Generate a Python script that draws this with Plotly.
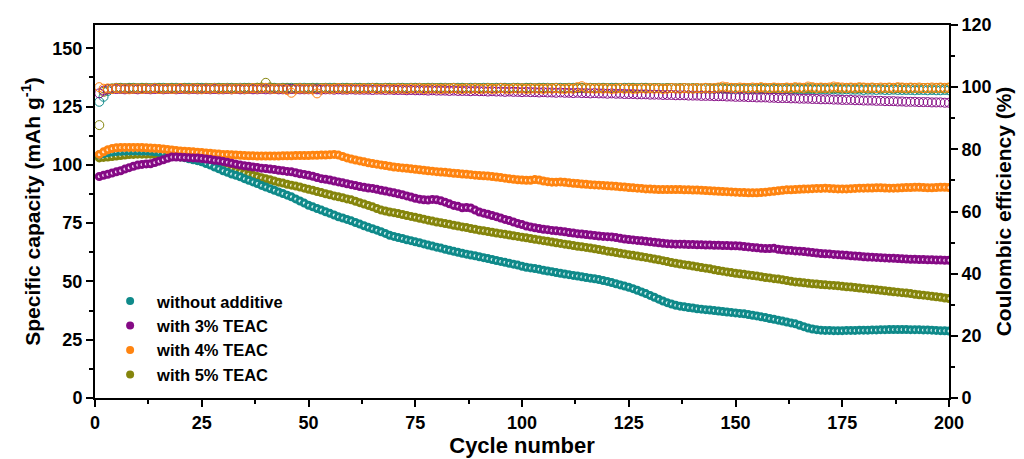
import plotly.graph_objects as go

cycles = list(range(1, 201))

# Specific capacity (mAh g-1)
cap_without = [
    104.3, 104.8, 105.2, 105.5, 105.7, 105.8, 105.9, 106.0, 106.0, 106.0,
    105.9, 105.9, 105.8, 105.6, 105.4, 105.1, 104.7, 104.2, 103.9, 103.5,
    103.1, 102.6, 102.2, 101.8, 101.3, 100.6, 99.9, 99.1, 98.3, 97.5,
    96.8, 96.1, 95.5, 94.9, 94.1, 93.4, 92.7, 92.0, 91.2, 90.5,
    89.8, 89.1, 88.4, 87.7, 87.0, 86.3, 85.4, 84.5, 83.6, 82.7,
    82.0, 81.3, 80.6, 79.9, 79.2, 78.5, 77.7, 77.2, 76.6, 76.0,
    75.3, 74.6, 73.9, 73.2, 72.6, 72.0, 71.3, 70.6, 69.8, 69.3,
    68.8, 68.4, 67.9, 67.5, 67.0, 66.6, 66.1, 65.6, 65.2, 64.7,
    64.3, 63.8, 63.4, 62.9, 62.5, 62.1, 61.7, 61.3, 61.0, 60.6,
    60.2, 59.8, 59.4, 59.0, 58.6, 58.2, 57.8, 57.4, 57.0, 56.5,
    56.1, 55.8, 55.5, 55.2, 54.8, 54.5, 54.2, 53.8, 53.5, 53.2,
    52.9, 52.6, 52.3, 52.0, 51.7, 51.4, 51.1, 50.8, 50.4, 50.0,
    49.5, 49.0, 48.5, 48.0, 47.5, 46.9, 46.2, 45.5, 44.8, 44.0,
    43.2, 42.4, 41.6, 40.9, 40.3, 39.8, 39.4, 39.1, 38.8, 38.6,
    38.3, 38.1, 37.9, 37.7, 37.5, 37.3, 37.1, 36.9, 36.7, 36.5,
    36.3, 36.1, 35.8, 35.5, 35.2, 34.8, 34.5, 34.1, 33.8, 33.4,
    33.0, 32.6, 32.2, 31.8, 31.2, 30.6, 30.0, 29.6, 29.3, 29.1,
    29.0, 29.0, 28.9, 28.9, 28.9, 29.0, 29.0, 29.0, 29.1, 29.1,
    29.1, 29.2, 29.2, 29.3, 29.3, 29.4, 29.4, 29.4, 29.4, 29.4,
    29.3, 29.3, 29.3, 29.2, 29.2, 29.1, 29.0, 28.9, 28.8, 28.7,
]
cap_3 = [
    95.0, 95.5, 96.0, 96.5, 97.0, 97.5, 98.2, 98.8, 99.4, 99.9,
    100.2, 100.4, 100.5, 101.0, 101.6, 102.2, 102.8, 103.4, 103.4, 103.3,
    103.2, 103.1, 103.0, 102.9, 102.7, 102.5, 102.3, 102.0, 101.8, 101.5,
    101.1, 100.7, 100.3, 99.9, 99.6, 99.4, 99.1, 98.9, 98.6, 98.4,
    98.2, 98.0, 97.7, 97.5, 97.2, 97.0, 96.6, 96.2, 95.9, 95.5,
    95.1, 94.6, 94.1, 93.8, 93.5, 93.1, 92.7, 92.3, 91.9, 91.5,
    91.1, 90.7, 90.4, 90.1, 89.9, 89.5, 89.1, 88.8, 88.4, 88.0,
    87.6, 87.2, 86.7, 86.2, 85.7, 85.3, 85.0, 84.9, 85.2, 85.0,
    84.6, 84.0, 83.3, 82.6, 82.2, 81.6, 81.7, 81.5, 80.6, 79.8,
    79.3, 78.8, 78.3, 77.8, 77.2, 76.6, 76.1, 75.5, 74.9, 74.4,
    73.8, 73.4, 73.0, 72.7, 72.4, 72.2, 71.9, 71.7, 71.5, 71.3,
    71.0, 70.8, 70.5, 70.3, 70.1, 69.9, 69.7, 69.5, 69.3, 69.2,
    69.1, 68.8, 68.5, 68.2, 68.0, 67.8, 67.6, 67.4, 67.2, 67.0,
    66.8, 66.6, 66.4, 66.2, 66.1, 66.0, 66.0, 65.9, 65.8, 65.8,
    65.7, 65.7, 65.6, 65.6, 65.5, 65.5, 65.4, 65.4, 65.3, 65.3,
    65.2, 65.0, 64.8, 64.6, 64.4, 64.2, 64.1, 64.1, 64.2, 63.8,
    63.6, 63.4, 63.3, 63.1, 63.0, 62.8, 62.6, 62.4, 62.2, 62.0,
    61.9, 61.8, 61.6, 61.5, 61.3, 61.2, 61.0, 60.9, 60.8, 60.6,
    60.5, 60.4, 60.3, 60.2, 60.1, 60.0, 59.9, 59.8, 59.7, 59.6,
    59.5, 59.5, 59.4, 59.4, 59.3, 59.3, 59.2, 59.2, 59.1, 59.1,
]
cap_4 = [
    104.5, 105.6, 106.5, 107.0, 107.3, 107.4, 107.5, 107.5, 107.5, 107.5,
    107.4, 107.3, 107.2, 107.1, 107.0, 106.8, 106.6, 106.4, 106.2, 106.0,
    105.8, 105.7, 105.6, 105.4, 105.3, 105.1, 105.0, 104.8, 104.7, 104.5,
    104.4, 104.3, 104.2, 104.1, 104.0, 103.9, 103.9, 103.8, 103.8, 103.8,
    103.8, 103.8, 103.8, 103.9, 103.9, 103.9, 104.0, 104.0, 104.0, 104.0,
    104.1, 104.1, 104.2, 104.2, 104.3, 104.5, 104.2, 103.6, 103.0, 102.5,
    102.1, 101.7, 101.3, 100.9, 100.6, 100.3, 100.0, 99.7, 99.4, 99.1,
    98.9, 98.7, 98.5, 98.3, 98.1, 97.9, 97.7, 97.5, 97.3, 97.1,
    96.9, 96.8, 96.6, 96.4, 96.3, 96.1, 96.0, 95.8, 95.6, 95.4,
    95.3, 95.2, 95.0, 94.8, 94.6, 94.3, 94.0, 93.8, 93.6, 93.5,
    93.4, 93.4, 93.7, 93.5, 93.1, 92.8, 92.6, 92.6, 92.7, 92.5,
    92.3, 92.1, 92.0, 91.8, 91.7, 91.5, 91.4, 91.3, 91.2, 91.0,
    90.9, 90.8, 90.6, 90.5, 90.3, 90.2, 90.0, 89.9, 89.7, 89.6,
    89.5, 89.4, 89.4, 89.4, 89.4, 89.4, 89.4, 89.3, 89.3, 89.2,
    89.2, 89.1, 89.0, 88.9, 88.8, 88.7, 88.6, 88.5, 88.4, 88.3,
    88.2, 88.1, 88.0, 88.0, 88.0, 88.1, 88.3, 88.5, 88.7, 88.9,
    89.1, 89.3, 89.3, 89.4, 89.5, 89.6, 89.7, 89.8, 89.9, 89.9,
    90.0, 89.9, 89.8, 89.7, 89.7, 89.7, 89.8, 89.9, 90.0, 90.0,
    90.1, 90.1, 90.2, 90.2, 90.1, 90.0, 90.0, 90.1, 90.2, 90.3,
    90.3, 90.4, 90.4, 90.3, 90.2, 90.2, 90.3, 90.4, 90.4, 90.3,
]
cap_5 = [
    103.0, 103.2, 103.4, 103.6, 103.8, 104.0, 104.2, 104.4, 104.5, 104.6,
    104.6, 104.6, 104.6, 104.5, 104.5, 104.3, 104.1, 103.9, 103.7, 103.5,
    103.2, 102.8, 102.4, 102.0, 101.5, 101.0, 100.5, 100.0, 99.5, 99.0,
    98.5, 98.0, 97.5, 97.0, 96.5, 96.0, 95.5, 95.0, 94.5, 94.0,
    93.6, 93.1, 92.6, 92.2, 91.7, 91.3, 90.9, 90.5, 90.0, 89.5,
    89.1, 88.6, 88.1, 87.6, 87.2, 86.7, 86.3, 85.9, 85.4, 85.0,
    84.4, 83.8, 83.2, 82.6, 82.0, 81.3, 80.6, 80.2, 79.8, 79.5,
    79.1, 78.7, 78.3, 77.9, 77.5, 77.1, 76.7, 76.3, 75.9, 75.5,
    75.2, 74.8, 74.5, 74.1, 73.8, 73.4, 73.1, 72.7, 72.4, 72.0,
    71.7, 71.4, 71.1, 70.8, 70.5, 70.2, 69.9, 69.6, 69.3, 69.0,
    68.7, 68.4, 68.1, 67.8, 67.5, 67.2, 66.9, 66.6, 66.3, 66.0,
    65.7, 65.4, 65.1, 64.9, 64.6, 64.3, 64.0, 63.7, 63.4, 63.0,
    62.7, 62.4, 62.1, 61.8, 61.5, 61.2, 60.9, 60.6, 60.3, 60.0,
    59.6, 59.3, 58.9, 58.5, 58.1, 57.8, 57.5, 57.2, 56.9, 56.6,
    56.3, 56.0, 55.7, 55.4, 55.0, 54.7, 54.4, 54.1, 53.8, 53.5,
    53.3, 53.1, 52.8, 52.5, 52.3, 52.0, 51.7, 51.5, 51.2, 51.0,
    50.7, 50.4, 50.1, 49.8, 49.6, 49.4, 49.2, 49.0, 48.9, 48.7,
    48.6, 48.4, 48.3, 48.1, 47.9, 47.7, 47.6, 47.4, 47.2, 47.0,
    46.8, 46.6, 46.4, 46.2, 46.0, 45.8, 45.6, 45.4, 45.2, 45.0,
    44.8, 44.5, 44.3, 44.1, 43.9, 43.6, 43.4, 43.2, 42.9, 42.7,
]

# Coulombic efficiency (%)
ce_without = [
    95.3, 96.9, 98.8, 99.5, 99.8, 99.8, 99.7, 99.8, 99.8, 99.7,
    99.8, 99.8, 99.7, 99.8, 99.8, 99.8, 99.7, 99.8, 99.8, 99.7,
    99.8, 99.8, 99.7, 99.8, 99.8, 99.8, 99.7, 99.8, 99.8, 99.7,
    99.8, 99.8, 99.7, 99.8, 99.8, 99.8, 99.7, 99.8, 99.8, 99.7,
    99.8, 99.8, 99.7, 99.8, 99.8, 99.8, 99.7, 99.8, 99.8, 99.7,
    99.8, 99.8, 99.7, 99.8, 99.8, 99.8, 99.7, 99.8, 99.8, 99.7,
    99.8, 99.8, 99.7, 99.8, 99.8, 99.8, 99.7, 99.8, 99.8, 99.7,
    99.8, 99.8, 99.7, 99.8, 99.8, 99.8, 99.7, 99.8, 99.8, 99.7,
    99.8, 99.8, 99.7, 99.8, 99.8, 99.8, 99.7, 99.8, 99.8, 99.7,
    99.8, 99.8, 99.7, 99.8, 99.8, 99.8, 99.7, 99.8, 99.8, 99.7,
    99.8, 99.8, 99.7, 99.8, 99.8, 99.8, 99.7, 99.8, 99.8, 99.7,
    99.8, 99.8, 99.7, 99.8, 99.8, 99.8, 99.7, 99.8, 99.8, 99.7,
    99.8, 99.8, 99.7, 99.8, 99.8, 99.8, 99.7, 99.8, 99.8, 99.7,
    99.7, 99.7, 99.6, 99.7, 99.7, 99.6, 99.6, 99.7, 99.6, 99.6,
    99.6, 99.5, 99.6, 99.5, 99.5, 99.6, 99.5, 99.5, 99.4, 99.5,
    99.4, 99.5, 99.4, 99.4, 99.5, 99.4, 99.4, 99.3, 99.4, 99.4,
    99.3, 99.4, 99.3, 99.3, 99.4, 99.3, 99.3, 99.3, 99.2, 99.3,
    99.3, 99.2, 99.3, 99.2, 99.2, 99.3, 99.2, 99.2, 99.2, 99.1,
    99.2, 99.2, 99.1, 99.2, 99.1, 99.1, 99.2, 99.1, 99.1, 99.1,
    99.1, 99.0, 99.1, 99.1, 99.0, 99.1, 99.0, 99.0, 99.1, 99.0,
]
ce_3 = [
    98.0, 98.9, 99.3, 99.4, 99.4, 99.4, 99.3, 99.4, 99.4, 99.3,
    99.4, 99.4, 99.3, 99.4, 99.4, 99.3, 99.4, 99.4, 99.3, 99.4,
    99.4, 99.3, 99.4, 99.3, 99.4, 99.4, 99.3, 99.4, 99.3, 99.3,
    99.4, 99.3, 99.4, 99.3, 99.3, 99.4, 99.3, 99.3, 99.4, 99.3,
    99.3, 99.4, 99.3, 99.3, 99.3, 99.4, 99.3, 99.3, 99.3, 99.3,
    99.3, 99.3, 99.2, 99.3, 99.3, 99.2, 99.3, 99.2, 99.2, 99.3,
    99.2, 99.2, 99.2, 99.2, 99.1, 99.2, 99.2, 99.1, 99.2, 99.1,
    99.1, 99.1, 99.0, 99.1, 99.0, 99.0, 99.0, 98.9, 99.0, 98.9,
    98.9, 98.9, 98.8, 98.9, 98.8, 98.8, 98.8, 98.7, 98.8, 98.7,
    98.7, 98.6, 98.7, 98.6, 98.6, 98.5, 98.6, 98.5, 98.5, 98.4,
    98.5, 98.4, 98.4, 98.3, 98.4, 98.3, 98.3, 98.2, 98.3, 98.2,
    98.2, 98.1, 98.2, 98.1, 98.1, 98.0, 98.1, 98.0, 98.0, 97.9,
    98.0, 97.9, 97.9, 97.8, 97.8, 97.8, 97.7, 97.7, 97.7, 97.6,
    97.6, 97.6, 97.5, 97.5, 97.5, 97.4, 97.4, 97.4, 97.3, 97.3,
    97.3, 97.2, 97.2, 97.2, 97.1, 97.1, 97.1, 97.0, 97.0, 96.9,
    96.9, 96.9, 96.8, 96.8, 96.7, 96.7, 96.7, 96.6, 96.6, 96.5,
    96.5, 96.5, 96.4, 96.4, 96.3, 96.3, 96.3, 96.2, 96.2, 96.1,
    96.1, 96.1, 96.0, 96.0, 95.9, 95.9, 95.9, 95.8, 95.8, 95.7,
    95.7, 95.7, 95.6, 95.6, 95.5, 95.5, 95.5, 95.4, 95.4, 95.3,
    95.3, 95.3, 95.2, 95.2, 95.2, 95.1, 95.1, 95.1, 95.0, 95.0,
]
ce_4 = [
    100.0, 99.5, 99.6, 99.4, 99.7, 99.5, 99.6, 99.3, 99.5, 99.6,
    99.4, 99.6, 99.5, 99.7, 99.4, 99.5, 99.6, 99.4, 99.5, 99.7,
    99.5, 99.4, 99.6, 99.5, 99.3, 99.6, 99.5, 99.7, 99.4, 99.5,
    99.6, 99.3, 99.5, 99.6, 99.4, 99.5, 99.7, 99.5, 99.6, 99.8,
    99.5, 99.4, 99.6, 99.5, 99.1, 98.2, 99.4, 99.6, 99.5, 99.4,
    99.3, 98.0, 99.5, 99.6, 99.4, 99.5, 99.7, 99.5, 99.4, 99.6,
    99.5, 99.4, 99.6, 99.5, 99.7, 99.4, 99.5, 99.6, 99.4, 99.5,
    99.6, 99.5, 99.4, 99.6, 99.5, 99.7, 99.4, 99.5, 99.6, 99.5,
    99.4, 99.6, 99.5, 99.7, 99.5, 99.4, 99.6, 99.5, 99.6, 99.4,
    99.5, 99.6, 99.4, 99.5, 99.7, 99.5, 99.4, 99.6, 99.5, 99.6,
    99.4, 99.5, 99.6, 99.5, 99.4, 99.6, 99.5, 99.7, 99.5, 99.4,
    99.6, 99.5, 100.0, 100.3, 99.8, 99.6, 99.5, 99.7, 99.5, 99.6,
    99.4, 99.5, 99.7, 99.5, 99.6, 99.4, 99.5, 99.6, 99.5, 99.7,
    99.5, 99.6, 99.4, 99.5, 99.7, 99.6, 99.5, 99.7, 99.6, 99.5,
    99.7, 99.6, 99.8, 99.6, 99.7, 99.9, 100.2, 100.0, 99.8, 99.7,
    99.9, 99.8, 99.7, 99.9, 99.8, 100.0, 99.8, 99.7, 99.9, 99.8,
    99.7, 99.9, 99.8, 100.0, 99.9, 99.8, 100.2, 100.0, 99.8, 99.9,
    99.8, 99.9, 100.2, 100.0, 99.9, 99.8, 99.9, 99.8, 100.0, 99.9,
    99.8, 99.9, 99.7, 99.9, 99.8, 99.9, 99.8, 100.0, 99.9, 99.8,
    99.9, 99.8, 99.9, 99.7, 99.8, 99.9, 99.8, 99.9, 99.8, 99.9,
]
ce_5 = [
    87.8, 98.5, 99.4, 99.6, 99.7, 99.7, 99.6, 99.7, 99.7, 99.6,
    99.7, 99.7, 99.6, 99.7, 99.7, 99.6, 99.7, 99.7, 99.6, 99.7,
    99.7, 99.6, 99.7, 99.7, 99.6, 99.7, 99.7, 99.6, 99.7, 99.7,
    99.6, 99.7, 99.7, 99.6, 99.7, 99.7, 99.6, 99.8, 99.9, 101.4,
    99.9, 99.7, 99.6, 99.7, 99.7, 99.6, 99.7, 99.7, 99.6, 99.7,
    99.7, 99.6, 99.7, 99.7, 99.6, 99.7, 99.7, 99.6, 99.7, 99.7,
    99.6, 99.7, 99.7, 99.6, 99.7, 99.7, 99.6, 99.7, 99.7, 99.6,
    99.7, 99.7, 99.6, 99.7, 99.7, 99.6, 99.7, 99.7, 99.6, 99.7,
    99.7, 99.6, 99.7, 99.7, 99.6, 99.7, 99.7, 99.6, 99.7, 99.7,
    99.6, 99.7, 99.7, 99.6, 99.7, 99.7, 99.6, 99.7, 99.7, 99.6,
    99.7, 99.7, 99.6, 99.7, 99.7, 99.6, 99.7, 99.7, 99.6, 99.7,
    99.7, 99.6, 99.7, 99.7, 99.6, 99.7, 99.7, 99.6, 99.7, 99.7,
    99.6, 99.7, 99.7, 99.6, 99.7, 99.7, 99.6, 99.7, 99.7, 99.6,
    99.7, 99.7, 99.6, 99.7, 99.7, 99.6, 99.7, 99.7, 99.6, 99.7,
    99.7, 99.6, 99.7, 99.7, 99.6, 99.7, 99.7, 99.6, 99.7, 99.7,
    99.6, 99.7, 99.7, 99.6, 99.7, 99.7, 99.6, 99.7, 99.7, 99.6,
    99.7, 99.7, 99.6, 99.7, 99.7, 99.6, 99.7, 99.7, 99.6, 99.7,
    99.7, 99.6, 99.7, 99.7, 99.6, 99.7, 99.7, 99.6, 99.7, 99.7,
    99.6, 99.7, 99.7, 99.6, 99.7, 99.7, 99.6, 99.7, 99.7, 99.6,
    99.7, 99.7, 99.6, 99.7, 99.7, 99.6, 99.7, 99.7, 99.6, 99.7,
]

names = ["without additive", "with 3% TEAC", "with 4% TEAC", "with 5% TEAC"]
colors = ["#0f8a8a", "#850a85", "#ff8410", "#85850c"]
fills = ["#d8f2f2", "#f6d8f6", "#ffeedd", "#f0f0d0"]

FONT = "Arial, Liberation Sans, sans-serif"

fig = go.Figure()

# Coulombic efficiency (right axis): open circles
ce_order = [(0, ce_without), (3, ce_5), (1, ce_3), (2, ce_4)]
for i, vals in ce_order:
    fig.add_trace(go.Scatter(
        x=cycles, y=vals, yaxis="y2", mode="markers", showlegend=False,
        marker=dict(symbol="circle-open", size=9, color=colors[i],
                    line=dict(width=1, color=colors[i])),
        hoverinfo="skip"))

# Specific capacity (left axis)
cap_order = [(3, cap_5), (0, cap_without), (2, cap_4), (1, cap_3)]
for i, vals in cap_order:
    fig.add_trace(go.Scatter(
        x=cycles, y=vals, yaxis="y", mode="markers", showlegend=False,
        marker=dict(symbol="circle", size=6, color=fills[i],
                    line=dict(width=3, color=colors[i])),
        hoverinfo="skip"))

# Legend entries
for i in range(4):
    fig.add_trace(go.Scatter(
        x=[None], y=[None], mode="markers", name=names[i],
        legendgroup=f"g{i}",
        marker=dict(symbol="circle", size=8, color=colors[i])))

axis_common = dict(
    showline=True, linewidth=2, linecolor="black",
    ticks="outside", ticklen=7, tickwidth=2, tickcolor="black",
    showgrid=False, zeroline=False, automargin=False,
    tickfont=dict(family=FONT, size=18, color="black", weight="bold"),
)

fig.update_layout(
    width=1024, height=459,
    margin=dict(l=95, r=75, t=25, b=61),
    paper_bgcolor="white", plot_bgcolor="white",
    xaxis=dict(
        range=[0, 200], tickmode="array", tickvals=[0, 25, 50, 75, 100, 125, 150, 175, 200],
        mirror=True,
        minor=dict(tickvals=[12.5, 37.5, 62.5, 87.5, 112.5, 137.5, 162.5, 187.5],
                   ticks="outside", ticklen=4, tickwidth=2, tickcolor="black"),
        title=dict(text="Cycle number", standoff=4,
                   font=dict(family=FONT, size=22, color="black", weight="bold")),
        **axis_common),
    yaxis=dict(
        range=[0, 160], tickmode="array", tickvals=[0, 25, 50, 75, 100, 125, 150],
        mirror=True,
        minor=dict(tickvals=[12.5, 37.5, 62.5, 87.5, 112.5, 137.5],
                   ticks="outside", ticklen=4, tickwidth=2, tickcolor="black"),
        title=dict(text="Specific capacity (mAh g<sup>-1</sup>)", standoff=6,
                   font=dict(family=FONT, size=21, color="black", weight="bold")),
        **axis_common),
    yaxis2=dict(
        range=[0, 120], tickmode="array", tickvals=[0, 20, 40, 60, 80, 100, 120],
        overlaying="y", side="right",
        minor=dict(tickvals=[10, 30, 50, 70, 90, 110],
                   ticks="outside", ticklen=4, tickwidth=2, tickcolor="black"),
        title=dict(text="Coulombic efficiency (%)", standoff=6,
                   font=dict(family=FONT, size=21, color="black", weight="bold")),
        **axis_common),
    legend=dict(
        x=0.0095, y=0.306, xanchor="left", yanchor="top",
        bgcolor="rgba(0,0,0,0)", borderwidth=0,
        tracegroupgap=0, itemwidth=44,
        font=dict(family=FONT, size=16.5, color="black", weight="bold"),
    ),
    showlegend=True,
)

fig.write_html("out.html")
